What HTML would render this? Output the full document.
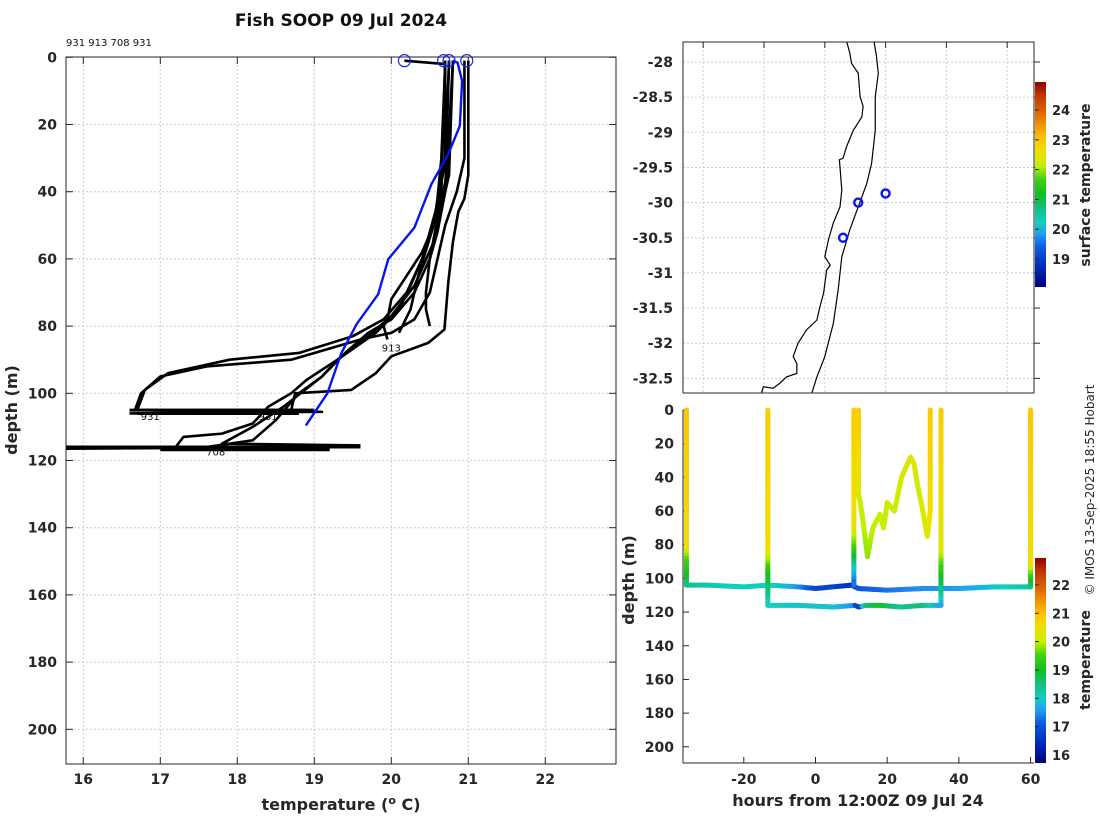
<!DOCTYPE html>
<html><head><meta charset="utf-8">
<style>
html,body{margin:0;padding:0;background:#fff;}
svg{display:block;font-family:"DejaVu Sans","Liberation Sans",sans-serif;}
.tk{font-size:14px;font-weight:bold;fill:#262626;}
.lb{font-size:16px;font-weight:bold;fill:#262626;}
</style></head>
<body>
<svg id="chart" width="1100" height="820" viewBox="0 0 1100 820" xmlns="http://www.w3.org/2000/svg">
<defs>
<linearGradient id="cbar" x1="0" y1="1" x2="0" y2="0">
<stop offset="0" stop-color="#000080"/><stop offset="0.11" stop-color="#0030c0"/>
<stop offset="0.2" stop-color="#1060e0"/><stop offset="0.26" stop-color="#20a0f0"/>
<stop offset="0.315" stop-color="#10d0c0"/><stop offset="0.385" stop-color="#10c080"/>
<stop offset="0.455" stop-color="#10c020"/><stop offset="0.525" stop-color="#40d010"/>
<stop offset="0.59" stop-color="#c0f000"/><stop offset="0.66" stop-color="#f0e000"/>
<stop offset="0.73" stop-color="#ffc000"/><stop offset="0.84" stop-color="#e07000"/>
<stop offset="0.94" stop-color="#c03000"/><stop offset="1" stop-color="#900000"/>
</linearGradient>
<clipPath id="clipL"><rect x="66" y="57" width="550" height="707"/></clipPath>
<clipPath id="clipM"><rect x="683" y="42" width="351" height="351"/></clipPath>
<clipPath id="clipB"><rect x="683" y="404" width="351" height="359"/></clipPath>
</defs>
<text x="341" y="26" text-anchor="middle" style="font-size:17px;font-weight:bold;fill:#111">Fish SOOP 09 Jul 2024</text>
<text x="66" y="46" style="font-size:10px;fill:#111">931 913 708 931</text>
<g id="left"></g>
<g id="map"></g>
<g id="bot"></g>
<text transform="translate(1094,490) rotate(-90)" text-anchor="middle" style="font-size:12px;fill:#262626">© IMOS 13-Sep-2025 18:55 Hobart</text>
</svg>
<script>
// ---------- data ----------
const tempTicks=[16,17,18,19,20,21,22];
const depthTicks=[0,20,40,60,80,100,120,140,160,180,200];
const profileLabels=["931","913","708","931"];
// profiles: [temperature, depth]
const prof1=[[20.95,1],[20.95,30],[20.85,40],[20.7,50],[20.6,60],[20.5,70],[20.3,78],[20.0,82],[19.6,84],[19.3,86],[18.7,90],[17.6,92],[17.0,95],[16.75,100],[16.67,105],[18.9,105],[16.7,106]];
const prof2=[[20.7,1],[20.7,30],[20.62,42],[20.55,50],[20.4,60],[20.2,70],[19.9,78],[19.5,83],[18.8,88],[17.9,90],[17.1,94],[16.8,99],[16.7,105],[19.1,105.5],[16.6,106]];
const prof3=[[20.75,1],[20.7,30],[20.62,42],[20.5,52],[20.4,60],[20.25,68],[20.1,75],[19.8,82],[19.3,90],[18.9,96],[18.7,100],[18.4,104],[18.2,109],[17.8,112],[17.3,113],[17.2,116],[15.7,116.5],[19.3,116]];
const prof4=[[20.8,1],[20.75,35],[20.65,45],[20.55,55],[20.3,68],[20.0,77],[19.6,85],[19.3,90],[19.1,95],[18.6,104],[18.2,110],[17.8,115],[19.6,115.5]];
const prof5=[[21.0,1],[21.0,35],[20.95,42],[20.87,46],[20.8,55],[20.74,67],[20.69,81],[20.48,85],[20.0,89],[19.8,94],[19.48,99],[18.75,100],[18.7,105],[17.5,105],[18.4,106]];
const prof6=[[20.8,1],[20.72,35],[20.6,48],[20.5,60],[20.3,70],[20.0,78],[19.7,82],[19.4,88],[19.1,95],[18.8,100],[18.5,108],[18.2,114],[17.6,116],[15.9,116]];
const prof7=[[20.7,1],[20.65,40],[20.55,50],[20.4,58],[20.2,65],[20.0,72],[19.95,78],[19.9,80],[19.95,84]];
const prof8=[[20.75,1],[20.7,40],[20.6,52],[20.5,60],[20.45,70],[20.45,75],[20.5,80]];
const prof9=[[20.17,1],[20.7,2],[20.65,30],[20.6,42],[20.55,50],[20.35,65],[20.25,75],[20.1,82]];
const profiles=[prof1,prof2,prof3,prof4,prof5,prof6,prof7,prof8,prof9];
const climTemp=[20.8,20.86,20.92,20.89,20.74,20.52,20.3,19.96,19.83,19.55,19.35,19.17,18.89];
const climDepth=[1,1.6,7,20.4,28.8,37.8,50.7,60.1,70.5,79.4,88.1,100,109.6];
const surfTemp=[20.17,20.68,20.75,20.98];
const lonTicks=[151,152,153,154,155,156];
const latTicks=[-28,-28.5,-29,-29.5,-30,-30.5,-31,-31.5,-32,-32.5];
const dropLon=[154.0,153.55,153.3];
const dropLat=[-29.87,-30.0,-30.5];
const coastLon=[153.36,153.41,153.44,153.55,153.58,153.63,153.61,153.47,153.36,153.30,153.24,153.28,153.25,153.14,153.06,153.0,153.09,153.03,152.98,152.92,152.87,152.70,152.56,152.48,152.54,152.54,152.37,152.26,152.15,151.99,151.96];
const coastLat=[-27.71,-27.87,-28.02,-28.16,-28.49,-28.63,-28.78,-28.97,-29.2,-29.37,-29.39,-29.82,-30.06,-30.29,-30.53,-30.77,-30.89,-30.96,-31.29,-31.48,-31.67,-31.81,-32.0,-32.19,-32.29,-32.43,-32.48,-32.57,-32.64,-32.62,-32.7];
const shelfLon=[153.81,153.85,153.88,153.83,153.83,153.77,153.69,153.55,153.41,153.28,153.22,153.14,153.0,152.87,152.79];
const shelfLat=[-27.71,-27.92,-28.16,-28.49,-28.97,-29.44,-29.73,-30.06,-30.39,-30.77,-31.24,-31.72,-32.19,-32.48,-32.7];
const hourTicks=[-20,0,20,40,60];
const cbTopTicks=[19,20,21,22,23,24];
const cbBotTicks=[16,17,18,19,20,21,22];
// transect tracks: [hour, depth, temperature]
const trackA=[[-36,0,20.9],[-36,80,20.6],[-36,90,19.5],[-36,100,19.0],[-36,104,18.5],[-30,104,18.2],[-20,105,18.0],[-13,104,18.1],[-5,105,17.6],[0,106,16.8],[5,105,16.8],[10,104,16.5],[12,106,17.0],[20,107,17.3],[30,106,17.5],[40,106,17.6],[50,105,17.9],[60,105,18.3],[60,100,19.0],[60,90,20.5],[60,0,20.9]];
const trackB=[[-13.3,0,20.8],[-13.3,85,20.5],[-13.3,95,19.3],[-13.3,108,18.5],[-13.3,116,18.0],[-5,116,17.9],[5,117,17.9],[11,116,17.5],[12,117,16.2],[14,116,18.5],[18,116,19.0],[24,117,18.3],[30,116,18.6],[35,116,17.5],[35,105,18.5],[35,95,19.2],[35,80,20.3],[35,0,20.8]];
const trackC=[[10.7,0,20.8],[10.7,70,20.4],[10.7,85,19.3],[10.7,95,18.0],[10.7,104,17.2]];
const trackD=[[12,0,20.8],[12,50,20.3],[12.5,55,20.1],[13.5,70,20.0],[14.5,87,19.8],[16,70,20.0],[18,62,20.0],[19,70,20.1],[20,55,20.1],[22,60,20.1],[24,40,20.2],[26.5,28,20.3],[27.5,32,20.3],[28.5,45,20.2],[29.5,55,20.2],[31.2,75,20.3],[32,60,20.5],[32,0,20.8]];
const tracks=[trackA,trackB,trackC,trackD];

// ---------- helpers ----------
const NS="http://www.w3.org/2000/svg";
function mk(parent,tag,attrs){const e=document.createElementNS(NS,tag);for(const k in attrs)e.setAttribute(k,attrs[k]);parent.appendChild(e);return e;}
const stops=[[0,[0,0,128]],[0.11,[0,48,192]],[0.2,[16,96,224]],[0.26,[32,160,240]],[0.315,[16,208,192]],[0.385,[16,192,128]],[0.455,[16,192,32]],[0.525,[64,208,16]],[0.59,[192,240,0]],[0.66,[240,224,0]],[0.73,[255,192,0]],[0.84,[224,112,0]],[0.94,[192,48,0]],[1,[144,0,0]]];
function cmap(f){f=Math.max(0,Math.min(1,f));for(let i=1;i<stops.length;i++){if(f<=stops[i][0]){const a=stops[i-1],b=stops[i],t=(f-a[0])/(b[0]-a[0]);const c=a[1].map((v,j)=>Math.round(v+(b[1][j]-v)*t));return `rgb(${c[0]},${c[1]},${c[2]})`;}}return "rgb(144,0,0)";}
const grid="#c8cbe6";

// ---------- left panel ----------
const L=document.getElementById('left');
const xT=t=>83.3+(t-16)*77, yD=d=>57.3+d*3.36;
tempTicks.forEach(t=>{
  const g=mk(L,'line',{x1:xT(t),x2:xT(t),y1:57,y2:764,stroke:grid,'stroke-dasharray':'2,2','stroke-width':1});
  
  mk(L,'line',{x1:xT(t),x2:xT(t),y1:764,y2:757,stroke:'#262626'});
  mk(L,'line',{x1:xT(t),x2:xT(t),y1:57,y2:64,stroke:'#262626'});
  const tx=mk(L,'text',{x:xT(t),y:784,'text-anchor':'middle',class:'tk'});tx.textContent=t;
  
});
depthTicks.forEach(d=>{
  if(d>0){mk(L,'line',{x1:66,x2:616,y1:yD(d),y2:yD(d),stroke:grid,'stroke-dasharray':'2,2'});}
  mk(L,'line',{x1:66,x2:73,y1:yD(d),y2:yD(d),stroke:'#262626'});
  mk(L,'line',{x1:616,x2:609,y1:yD(d),y2:yD(d),stroke:'#262626'});
  const tx=mk(L,'text',{x:57,y:yD(d)+5,'text-anchor':'end',class:'tk'});tx.textContent=d;
  
});
const LG=mk(L,'g',{'clip-path':'url(#clipL)'});
profiles.forEach(p=>{
  const pl=mk(LG,'polyline',{points:p.map(v=>xT(v[0])+','+yD(v[1])).join(' '),fill:'none',stroke:'#000','stroke-width':2.6,'stroke-linejoin':'round'});
  
});
[[16.6,19.0,105],[16.7,18.8,106],[15.7,19.6,116],[17.0,19.2,116.8]].forEach(b=>{
  mk(LG,'line',{x1:xT(b[0]),x2:xT(b[1]),y1:yD(b[2]),y2:yD(b[2]),stroke:'#000','stroke-width':3});
});
const clim=mk(LG,'polyline',{points:climTemp.map((t,i)=>xT(t)+','+yD(climDepth[i])).join(' '),fill:'none',stroke:'#0a14f0','stroke-width':2.4});

surfTemp.forEach(t=>{const c=mk(L,'circle',{cx:xT(t),cy:yD(1),r:6,fill:'none',stroke:'#1428f0','stroke-width':1.2});
  });
[[16.87,106.5],[20.0,86],[17.72,117],[18.4,106.5]].forEach((p,i)=>{
  const tx=mk(L,'text',{x:xT(p[0]),y:yD(p[1])+5,'text-anchor':'middle',style:'font-size:10px;fill:#111'});tx.textContent=profileLabels[i];
  
});
mk(L,'rect',{x:66,y:57,width:550,height:707,fill:'none',stroke:'#262626','stroke-width':1});
const xl=mk(L,'text',{x:341,y:810,'text-anchor':'middle',class:'lb'});
xl.innerHTML='temperature (<tspan dy="-6" font-size="11">o</tspan><tspan dy="6"> C)</tspan>';

const yl=mk(L,'text',{transform:'translate(17,410) rotate(-90)','text-anchor':'middle',class:'lb'});yl.textContent='depth (m)';


// ---------- map ----------
const M=document.getElementById('map');
const xLon=l=>764+(l-152)*60.8, yLat=l=>62+(-28-l)*70.3;
lonTicks.forEach(l=>{
  mk(M,'line',{x1:xLon(l),x2:xLon(l),y1:42,y2:393,stroke:grid,'stroke-dasharray':'2,2'});
  mk(M,'line',{x1:xLon(l),x2:xLon(l),y1:42,y2:48,stroke:'#262626'});
  const tx=mk(M,'text',{x:xLon(l),y:420,'text-anchor':'middle',class:'tk'});tx.textContent=l;
  
});
latTicks.forEach(l=>{
  mk(M,'line',{x1:683,x2:1034,y1:yLat(l),y2:yLat(l),stroke:grid,'stroke-dasharray':'2,2'});
  mk(M,'line',{x1:1034,x2:1040,y1:yLat(l),y2:yLat(l),stroke:'#262626'});
  const tx=mk(M,'text',{x:673,y:yLat(l)+5,'text-anchor':'end',class:'tk'});tx.textContent=l;
  
});
const MG=mk(M,'g',{'clip-path':'url(#clipM)'});
const coast=mk(MG,'polyline',{points:coastLon.map((l,i)=>xLon(l)+','+yLat(coastLat[i])).join(' '),fill:'none',stroke:'#000','stroke-width':1.2});

const shelf=mk(MG,'polyline',{points:shelfLon.map((l,i)=>xLon(l)+','+yLat(shelfLat[i])).join(' '),fill:'none',stroke:'#000','stroke-width':1.2});

dropLon.forEach((l,i)=>{const c=mk(MG,'circle',{cx:xLon(l),cy:yLat(dropLat[i]),r:4,fill:'none',stroke:'#0a14f0','stroke-width':2.4});
  });
mk(M,'rect',{x:683,y:42,width:351,height:351,fill:'none',stroke:'#262626'});
const cbTop=v=>287-(v-18.06)/(24.94-18.06)*205;
mk(M,'rect',{x:1035,y:82,width:11,height:205,fill:'url(#cbar)'});
cbTopTicks.forEach(v=>{mk(M,'line',{x1:1035,x2:1039,y1:cbTop(v),y2:cbTop(v),stroke:'#262626'});
  const tx=mk(M,'text',{x:1052,y:cbTop(v)+5,class:'tk',style:'font-size:13px'});tx.textContent=v;
  });
const ct=mk(M,'text',{transform:'translate(1090,185) rotate(-90)','text-anchor':'middle',class:'tk'});ct.textContent='surface temperature';


// ---------- bottom-right ----------
const B=document.getElementById('bot');
mk(B,'rect',{x:676,y:405,width:360,height:360,fill:'#fff'});
const xH=h=>815.5+h*3.585, yB=d=>410+d*1.684;
hourTicks.forEach(h=>{mk(B,'line',{x1:xH(h),x2:xH(h),y1:763,y2:757,stroke:'#262626'});
  const tx=mk(B,'text',{x:xH(h),y:784,'text-anchor':'middle',class:'tk'});tx.textContent=h;
  });
depthTicks.forEach(d=>{mk(B,'line',{x1:683,x2:689,y1:yB(d),y2:yB(d),stroke:'#262626'});
  const tx=mk(B,'text',{x:674,y:yB(d)+5,'text-anchor':'end',class:'tk'});tx.textContent=d;
  });
const BG=mk(B,'g',{'clip-path':'url(#clipB)'});
const cbBot=v=>763-(v-15.72)/(22.95-15.72)*205;
tracks.forEach(tr=>{
  for(let i=1;i<tr.length;i++){const a=tr[i-1],b=tr[i];
    const n=Math.max(1,Math.ceil(Math.hypot(xH(b[0])-xH(a[0]),yB(b[1])-yB(a[1]))/4));
    for(let k=0;k<n;k++){const t0=k/n,t1=(k+1)/n,tm=(t0+t1)/2;
      const temp=a[2]+(b[2]-a[2])*tm;
      const s=mk(BG,'line',{x1:xH(a[0]+(b[0]-a[0])*t0),y1:yB(a[1]+(b[1]-a[1])*t0),x2:xH(a[0]+(b[0]-a[0])*t1),y2:yB(a[1]+(b[1]-a[1])*t1),stroke:cmap((temp-15.72)/(22.95-15.72)),'stroke-width':5,'stroke-linecap':'round'});
      
      
    }}
});
mk(B,'line',{x1:683,x2:683,y1:410,y2:763,stroke:'#262626'});
mk(B,'line',{x1:683,x2:1034,y1:763,y2:763,stroke:'#262626'});
mk(B,'rect',{x:1035,y:558,width:11,height:205,fill:'url(#cbar)'});
cbBotTicks.forEach(v=>{mk(B,'line',{x1:1035,x2:1039,y1:cbBot(v),y2:cbBot(v),stroke:'#262626'});
  const tx=mk(B,'text',{x:1052,y:cbBot(v)+5,class:'tk',style:'font-size:13px'});tx.textContent=v;
  });
const ct2=mk(B,'text',{transform:'translate(1090,660) rotate(-90)','text-anchor':'middle',class:'tk'});ct2.textContent='temperature';

const bx=mk(B,'text',{x:858,y:806,'text-anchor':'middle',class:'lb'});bx.textContent='hours from 12:00Z 09 Jul 24';

const by=mk(B,'text',{transform:'translate(634,580) rotate(-90)','text-anchor':'middle',class:'lb'});by.textContent='depth (m)';

</script>
</body></html>
